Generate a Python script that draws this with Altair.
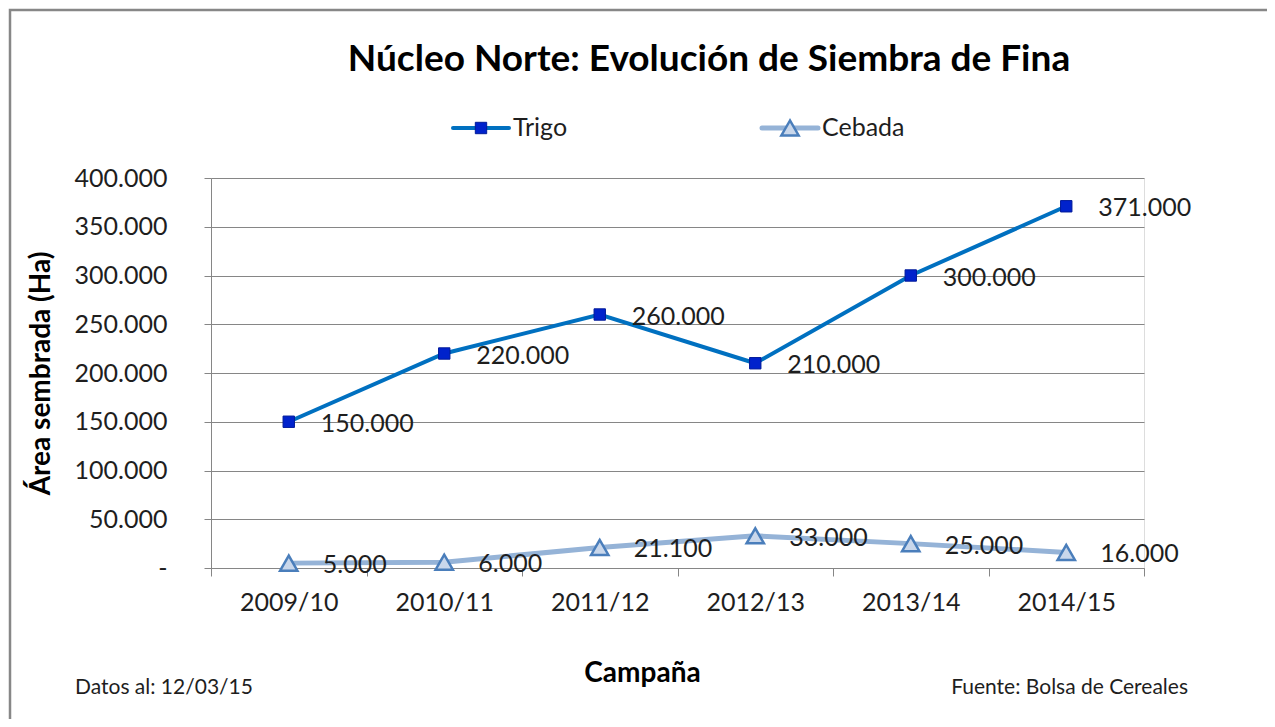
import altair as alt
import pandas as pd

campanas = ["2009/10", "2010/11", "2011/12", "2012/13", "2013/14", "2014/15"]
trigo = [150000, 220000, 260000, 210000, 300000, 371000]
cebada = [5000, 6000, 21100, 33000, 25000, 16000]
y_ticks = [0, 50000, 100000, 150000, 200000, 250000, 300000, 350000, 400000]

FONT = "Lato"
TXT = "#1e1e1e"

df = pd.DataFrame(
    {
        "Campaña": campanas * 2,
        "valor": trigo + cebada,
        "serie": ["Trigo"] * len(campanas) + ["Cebada"] * len(campanas),
    }
)
df["etiqueta"] = df["valor"].map(lambda v: f"{v:,.0f}".replace(",", "."))

x_enc = alt.X(
    "Campaña:N",
    sort=campanas,
    scale=alt.Scale(type="band", paddingInner=0, paddingOuter=0),
    axis=alt.Axis(
        title="Campaña",
        titleFont=FONT,
        titleFontSize=28,
        titleFontWeight="bold",
        titleColor="#000000",
        titleX=431,
        titleY=105,
        titleBaseline="middle",
        labelFont=FONT,
        labelFontSize=25,
        labelColor=TXT,
        labelAngle=0,
        labelPadding=14,
        tickBand="extent",
        tickSize=8,
        tickColor="#868686",
        domainColor="#868686",
        grid=False,
    ),
)
y_enc = alt.Y(
    "valor:Q",
    scale=alt.Scale(domain=[0, 400000], nice=False),
    axis=alt.Axis(
        title="Área sembrada (Ha)",
        titleFont=FONT,
        titleFontSize=28,
        titleFontWeight="bold",
        titleColor="#000000",
        titleX=-170,
        titleY=195,
        titleBaseline="middle",
        values=y_ticks,
        labelExpr="datum.value == 0 ? '-' : replace(format(datum.value, ',.0f'), /,/g, '.')",
        labelFont=FONT,
        labelFontSize=25,
        labelColor=TXT,
        labelPadding=37,
        tickSize=7,
        tickColor="#868686",
        domainColor="#868686",
        gridColor="#868686",
        gridWidth=1,
    ),
)

trigo_df = df[df["serie"] == "Trigo"]
cebada_df = df[df["serie"] == "Cebada"]

trigo_line = alt.Chart(trigo_df).mark_line(color="#0070C0", strokeWidth=4).encode(x=x_enc, y=y_enc)
trigo_pts = alt.Chart(trigo_df).mark_point(
    shape="square", filled=True, fill="#0022CC", stroke="#001a99", strokeWidth=1, size=130, opacity=1
).encode(x=x_enc, y=y_enc)
trigo_lbl = alt.Chart(trigo_df).mark_text(
    align="left", baseline="middle", dx=32, dy=2, font=FONT, fontSize=25, color=TXT
).encode(x=x_enc, y=y_enc, text="etiqueta:N")

ceb_line = alt.Chart(cebada_df).mark_line(color="#95B3D7", strokeWidth=5).encode(x=x_enc, y=y_enc)
ceb_pts = alt.Chart(cebada_df).mark_point(
    shape="triangle-up", filled=True, fill="#C9D7EB", stroke="#4A7EBB", strokeWidth=2.5, size=300, opacity=1
).encode(x=x_enc, y=y_enc)
ceb_lbl = alt.Chart(cebada_df).mark_text(
    align="left", baseline="middle", dx=34, dy=2, font=FONT, fontSize=25, color=TXT
).encode(x=x_enc, y=y_enc, text="etiqueta:N")

# legend (decoration)
leg_y = 128 - 178
leg = []
for name, x0, col, w, shape, fill, stroke, sw, sz in [
    ("Trigo", 453 - 211, "#0070C0", 4, "square", "#0022CC", "#001a99", 1, 130),
    ("Cebada", 762 - 211, "#95B3D7", 5, "triangle-up", "#C9D7EB", "#4A7EBB", 2.5, 300),
]:
    d = pd.DataFrame({"serie": [name]})
    leg.append(
        alt.Chart(d).mark_rule(color=col, strokeWidth=w, strokeCap="round").encode(
            x=alt.value(x0), x2=alt.value(x0 + 56), y=alt.value(leg_y)
        )
    )
    leg.append(
        alt.Chart(d).mark_point(shape=shape, filled=True, fill=fill, stroke=stroke, strokeWidth=sw, size=sz, opacity=1).encode(
            x=alt.value(x0 + 28), y=alt.value(leg_y)
        )
    )
    leg.append(
        alt.Chart(d).mark_text(align="left", baseline="middle", font=FONT, fontSize=25, color=TXT).encode(
            x=alt.value(x0 + 60), y=alt.value(leg_y), text="serie:N"
        )
    )

title_df = pd.DataFrame({"t": ["Núcleo Norte: Evolución de Siembra de Fina"]})
title = alt.Chart(title_df).mark_text(
    align="center", baseline="middle", font=FONT, fontSize=37, fontWeight="bold", color="#000000"
).encode(x=alt.value(709 - 211), y=alt.value(60 - 178), text="t:N")

nota_df = pd.DataFrame({"t": ["Datos al: 12/03/15"]})
nota = alt.Chart(nota_df).mark_text(
    align="left", baseline="middle", font=FONT, fontSize=21, color=TXT
).encode(x=alt.value(75 - 211), y=alt.value(688 - 178), text="t:N")
fuente_df = pd.DataFrame({"t": ["Fuente: Bolsa de Cereales"]})
fuente = alt.Chart(fuente_df).mark_text(
    align="right", baseline="middle", font=FONT, fontSize=21, color=TXT
).encode(x=alt.value(1188 - 211), y=alt.value(688 - 178), text="t:N")

frame = alt.Chart(title_df).mark_rect(fill=None, stroke="#878787", strokeWidth=2.5).encode(
    x=alt.value(10 - 211), x2=alt.value(1270 - 211), y=alt.value(10 - 178), y2=alt.value(730 - 178)
)

chart = (
    alt.layer(frame, ceb_line, ceb_pts, ceb_lbl, trigo_line, trigo_pts, trigo_lbl, title, nota, fuente, *leg)
    .properties(
        width=933,
        height=390,
        autosize=alt.AutoSizeParams(type="none"),
        padding={"left": 203, "top": 170, "right": 123, "bottom": 151},
    )
    .configure_view(stroke=None)
    .configure(background="white")
)

chart.save("out.html", embed_options={"renderer": "svg", "actions": False})
